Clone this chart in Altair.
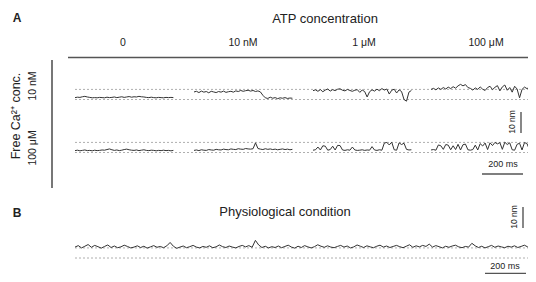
import altair as alt
import pandas as pd

# ---------------- data ----------------
ATP_LABELS = ["0", "10 nM", "1 μM", "100 μM"]
CA_LABELS = ["10 nM", "100 μM"]
STEP_A_MS = 12   # sampling interval of the panel A traces
STEP_B_MS = 16   # sampling interval of the panel B trace
SCALE_NM = 10
SCALE_MS = 200
LEVEL_NM = 4.8   # spacing of the two dotted reference levels

# displacement (nm above lower reference level), free Ca2+ 10 nM, per ATP column
CA10_ATP0 = [0.9,1.1,1.0,1.3,1.5,1.2,1.0,0.8,0.9,0.8,1.0,0.9,0.8,1.1,0.9,1.0,1.2,0.9,1.1,1.3,1.0,
             1.2,1.4,1.1,1.3,1.2,1.5,1.3,1.2,1.0,0.9,1.1,0.9,0.8,1.0,0.9,0.8,1.0,0.9,1.0,0.9]
CA10_ATP10N = [3.6,3.9,3.3,4.0,3.5,3.8,3.2,3.9,3.6,3.3,3.8,3.5,4.0,3.4,3.7,3.9,3.5,4.1,3.8,4.3,3.9,
               4.2,4.4,4.0,4.3,3.8,4.1,3.6,2.0,0.8,0.5,1.1,0.6,0.9,0.4,0.8,0.6,0.9,0.5,0.7,0.6]
CA10_ATP1U = [4.2,4.6,3.9,4.7,3.7,4.5,5.0,4.0,4.7,4.2,4.9,5.1,4.4,4.1,4.8,4.3,3.9,4.4,4.7,3.4,4.5,
              3.8,1.2,3.7,4.6,4.0,4.9,4.2,5.2,4.5,5.0,2.6,4.4,4.9,3.1,4.6,3.8,0.0,-0.8,3.5,4.3]
CA10_ATP100U = [4.8,5.3,4.6,5.5,4.8,5.7,5.0,5.9,5.2,6.1,5.4,6.5,7.2,6.5,7.1,5.7,5.3,4.5,5.5,4.8,6.0,
                4.9,4.3,5.7,6.3,4.7,5.8,6.6,4.1,6.0,6.9,4.4,5.7,3.5,6.3,5.0,0.8,4.8,5.9,5.2,5.7]
# free Ca2+ 100 uM
CA100_ATP0 = [0.9,1.1,0.8,1.0,1.2,0.9,1.0,0.8,1.1,0.9,1.0,1.2,1.1,1.4,1.7,1.3,1.0,1.2,0.9,1.1,1.4,
              1.6,1.3,1.1,1.0,1.2,0.9,1.1,1.3,1.0,0.9,1.1,1.0,0.8,1.0,0.9,1.1,0.9,1.0,0.8,1.0]
CA100_ATP10N = [1.0,1.2,0.9,1.3,1.1,1.0,1.4,1.2,1.1,1.5,1.3,1.2,1.6,1.4,1.3,1.7,1.5,1.4,1.8,1.6,1.5,
                1.9,1.7,1.6,1.8,4.6,1.9,1.6,1.4,1.8,1.5,1.7,1.4,1.6,1.3,1.5,1.7,1.4,1.6,1.3,1.5]
CA100_ATP1U = [1.1,1.3,2.6,1.2,3.2,3.0,1.1,1.4,3.0,1.2,3.4,3.3,1.2,1.0,1.3,1.1,2.6,1.2,1.0,1.1,1.3,
               1.0,1.2,1.1,2.8,1.2,1.0,1.3,1.1,4.5,4.8,3.6,4.9,1.3,1.1,4.6,3.8,4.4,1.5,1.2,1.3]
CA100_ATP100U = [1.2,1.4,1.1,3.6,3.2,1.5,3.8,3.5,1.3,3.2,1.4,3.9,1.2,3.7,4.0,1.3,1.1,1.4,3.5,1.2,4.2,
                 3.1,4.5,1.4,4.6,3.3,4.8,4.1,4.7,1.5,4.9,3.8,4.6,1.3,1.1,3.9,4.4,1.2,4.7,4.3,1.4]
# panel B, physiological condition
PHYS = [5.2,5.9,4.8,5.6,6.4,5.1,6.0,5.4,4.7,5.5,6.2,5.0,5.7,4.9,5.3,6.1,5.5,4.8,5.2,5.8,
        5.0,5.6,4.7,5.3,5.9,5.1,5.5,4.9,5.8,7.4,5.6,4.6,5.2,5.7,4.9,5.4,6.0,5.2,4.8,5.5,
        5.1,5.8,4.9,5.3,6.2,5.4,5.0,5.7,5.2,4.8,5.5,6.0,5.3,5.9,5.1,8.4,6.2,5.0,5.6,4.8,
        5.4,5.0,5.7,4.9,5.5,6.1,5.2,4.7,5.6,5.0,5.9,5.3,4.8,5.4,6.3,5.6,5.1,5.8,5.2,4.9,
        5.5,6.0,5.2,5.7,4.8,5.3,6.2,5.6,5.0,5.8,5.3,4.9,5.6,6.1,5.2,5.7,5.0,5.5,6.0,5.4,
        4.9,5.6,6.3,5.1,5.8,5.3,6.0,5.5,6.6,5.2,5.9,5.4,4.8,5.6,5.1,5.7,6.1,5.3,4.9,5.5,
        5.2,7.0,5.8,5.0,5.6,4.8,5.4,6.0,5.1,5.7,5.3,4.9,5.6,5.2,5.8,5.0,5.5,6.1,5.3,5.6]

ROWS_A = [[CA10_ATP0, CA10_ATP10N, CA10_ATP1U, CA10_ATP100U],
          [CA100_ATP0, CA100_ATP10N, CA100_ATP1U, CA100_ATP100U]]

# ---------------- layout ----------------
W, H = 520, 266
MS_PER_PX = SCALE_MS / 41.0
NM_PER_PX = SCALE_NM / 21.0


def X(px):
    return (px - 8) * MS_PER_PX


def Y(py):
    return (8 + H - py) * NM_PER_PX


COL_START = [75, 194, 313, 431]
COL_CENTER = [123, 243, 364, 486]
ROW_BASE = [99.5, 152.5]
ROW_LABEL_Y = [86, 148]
B_BASE = 258

# traces
recs = []
for r, row in enumerate(ROWS_A):
    for c, vals in enumerate(row):
        for i, v in enumerate(vals):
            recs.append({"seg": f"a{r}{c}", "t": X(COL_START[c]) + i * STEP_A_MS,
                         "y": Y(ROW_BASE[r]) + v})
for i, v in enumerate(PHYS):
    recs.append({"seg": "b", "t": X(75) + i * STEP_B_MS, "y": Y(B_BASE) + v})
traces = pd.DataFrame(recs)

xs = alt.Scale(domain=[0, W * MS_PER_PX], nice=False, zero=False)
ys = alt.Scale(domain=[0, H * NM_PER_PX], nice=False, zero=False)

trace_layer = alt.Chart(traces).mark_line(color="#333333", strokeWidth=1.0).encode(
    x=alt.X("t:Q", scale=xs, axis=None),
    y=alt.Y("y:Q", scale=ys, axis=None),
    detail="seg:N",
)

# dotted reference levels
dots = []
for base in ROW_BASE + [B_BASE]:
    for k in (0, 1):
        dots.append({"x": X(75), "x2": X(530), "y": Y(base) + k * LEVEL_NM})
dot_layer = alt.Chart(pd.DataFrame(dots)).mark_rule(
    color="#9a9a9a", strokeWidth=0.8, strokeDash=[2, 2]).encode(
    x=alt.X("x:Q", scale=xs, axis=None), x2="x2:Q", y=alt.Y("y:Q", scale=ys, axis=None))

# solid frame lines + scale bars
hlines = pd.DataFrame([
    {"x": X(68), "x2": X(531), "y": Y(57.5), "w": 1.6},
    {"x": X(482), "x2": X(482) + SCALE_MS, "y": Y(174), "w": 1.4},
    {"x": X(485), "x2": X(485) + SCALE_MS, "y": Y(273.5), "w": 1.4},
])
vlines = pd.DataFrame([
    {"x": X(52), "y": Y(60), "y2": Y(188), "w": 1.6},
    {"x": X(521), "y": Y(133), "y2": Y(133) + SCALE_NM, "w": 1.4},
    {"x": X(523), "y": Y(228), "y2": Y(228) + SCALE_NM, "w": 1.4},
])
hl_layer = alt.Chart(hlines).mark_rule(color="#555555").encode(
    x=alt.X("x:Q", scale=xs, axis=None), x2="x2:Q", y=alt.Y("y:Q", scale=ys, axis=None),
    strokeWidth=alt.StrokeWidth("w:Q", scale=None))
vl_layer = alt.Chart(vlines).mark_rule(color="#555555").encode(
    x=alt.X("x:Q", scale=xs, axis=None), y=alt.Y("y:Q", scale=ys, axis=None), y2="y2:Q",
    strokeWidth=alt.StrokeWidth("w:Q", scale=None))

# texts
texts = [
    {"text": "ATP concentration", "x": X(325), "y": Y(19), "size": 13, "angle": 0},
    {"text": "Physiological condition", "x": X(285), "y": Y(212), "size": 13, "angle": 0},
    {"text": "Free Ca²⁺ conc.", "x": X(15.5), "y": Y(116), "size": 12.5, "angle": 270},
    {"text": "200 ms", "x": X(503), "y": Y(164), "size": 9, "angle": 0},
    {"text": "200 ms", "x": X(505), "y": Y(266), "size": 9, "angle": 0},
    {"text": "10 nm", "x": X(512), "y": Y(122), "size": 8.5, "angle": 270},
    {"text": "10 nm", "x": X(514), "y": Y(217), "size": 8.5, "angle": 270},
]
for lab, cx in zip(ATP_LABELS, COL_CENTER):
    texts.append({"text": lab, "x": X(cx), "y": Y(43), "size": 10.5, "angle": 0})
for lab, cy in zip(CA_LABELS, ROW_LABEL_Y):
    texts.append({"text": lab, "x": X(33), "y": Y(cy), "size": 10.5, "angle": 270})
text_layer = alt.Chart(pd.DataFrame(texts)).mark_text(
    font="Liberation Sans", color="#222222", baseline="middle", align="center").encode(
    x=alt.X("x:Q", scale=xs, axis=None), y=alt.Y("y:Q", scale=ys, axis=None),
    text="text:N", size=alt.Size("size:Q", scale=None), angle=alt.Angle("angle:Q", scale=None))

bold = pd.DataFrame([
    {"text": "A", "x": X(17), "y": Y(18)},
    {"text": "B", "x": X(17), "y": Y(213)},
])
bold_layer = alt.Chart(bold).mark_text(
    font="Liberation Sans", fontWeight="bold", fontSize=12, color="#222222",
    baseline="middle", align="center").encode(
    x=alt.X("x:Q", scale=xs, axis=None), y=alt.Y("y:Q", scale=ys, axis=None), text="text:N")

chart = alt.layer(dot_layer, trace_layer, hl_layer, vl_layer, text_layer, bold_layer).properties(
    width=W, height=H, autosize=alt.AutoSizeParams(type="none"), padding=0,
    background="white",
).configure_view(stroke=None)

chart.save("out.html", embed_options={"renderer": "svg", "actions": False})
